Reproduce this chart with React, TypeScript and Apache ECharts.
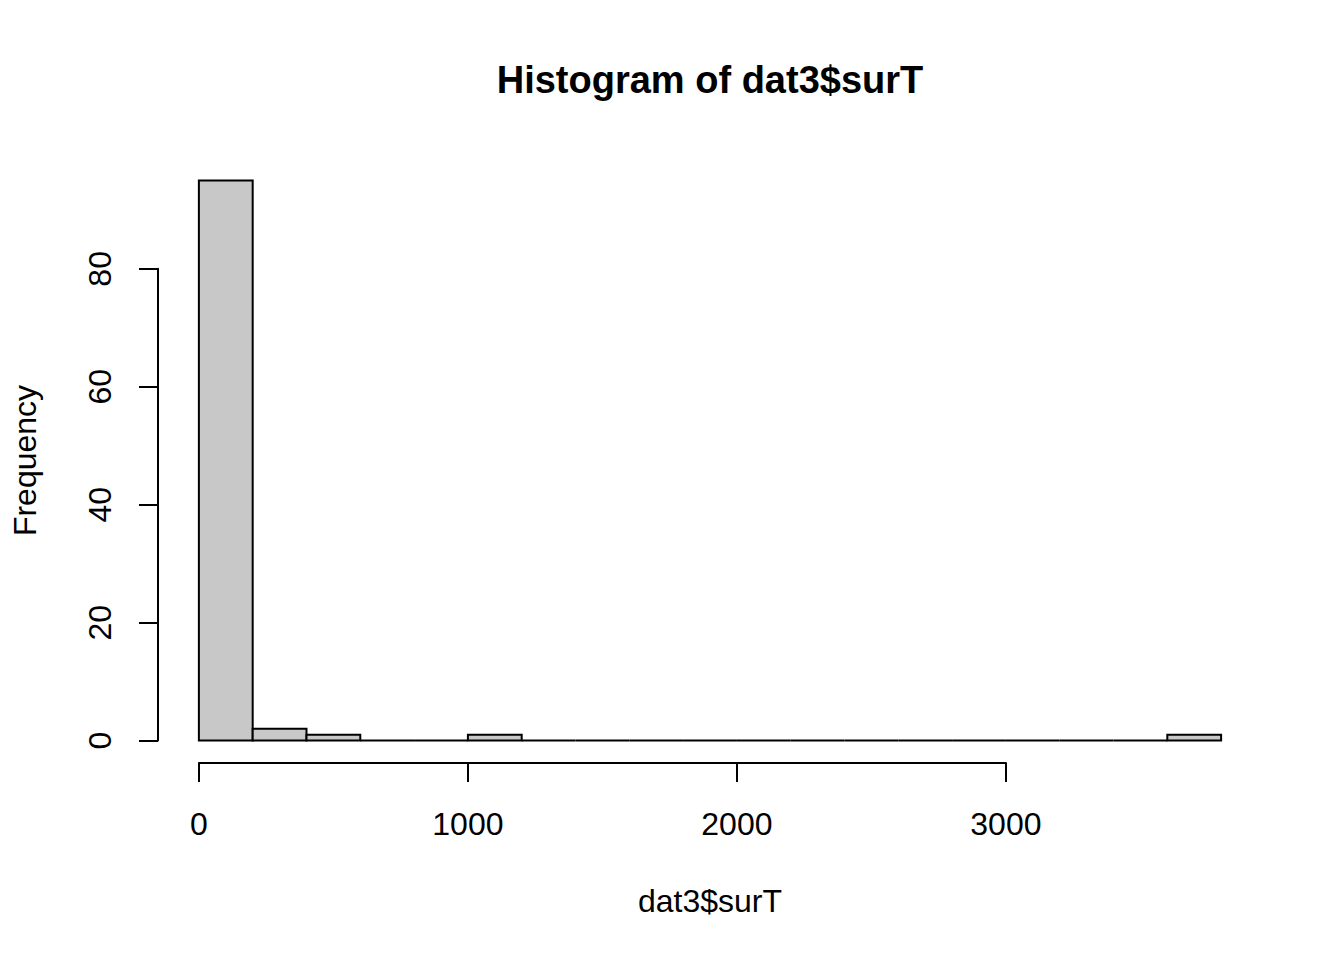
import React, { useEffect, useRef } from "react";
import * as echarts from "echarts";

const binStarts = [0, 200, 400, 600, 800, 1000, 1200, 1400, 1600, 1800, 2000, 2200, 2400, 2600, 2800, 3000, 3200, 3400, 3600];
const binWidth = 200;
const counts = [95, 2, 1, 0, 0, 1, 0, 0, 0, 0, 0, 0, 0, 0, 0, 0, 0, 0, 1];
const xTicks = [0, 1000, 2000, 3000];
const yTicks = [0, 20, 40, 60, 80];
const titleText = "Histogram of dat3$surT";
const xLabel = "dat3$surT";
const yLabel = "Frequency";

export default function App() {
  const ref = useRef<HTMLDivElement>(null);
  useEffect(() => {
    document.body.style.margin = "0";
    const chart = echarts.init(ref.current!, null, { renderer: "svg" });

    // plot region (R style, 4% extension)
    const xDataMin = binStarts[0];
    const xDataMax = binStarts[binStarts.length - 1] + binWidth;
    const yDataMax = Math.max(...counts);
    const xPad = (xDataMax - xDataMin) * 0.04;
    const yPad = yDataMax * 0.04;
    const xMin = xDataMin - xPad, xMax = xDataMax + xPad;
    const yMin = -yPad, yMax = yDataMax + yPad;
    const L = 158, T = 158, W = 1104, H = 605;
    const px = (v: number) => L + ((v - xMin) / (xMax - xMin)) * W;
    const py = (v: number) => T + ((yMax - v) / (yMax - yMin)) * H;

    const yTop = yTicks[yTicks.length - 1];
    const xRight = xTicks[xTicks.length - 1];

    const font = "'Liberation Sans', Arial, Helvetica, sans-serif";

    const data = binStarts.map((s, i) => [s, s + binWidth, counts[i]]);

    chart.setOption({
      animation: false,
      backgroundColor: "#ffffff",
      grid: [
        { left: L, top: T, width: W, height: H },
        { left: L, top: py(yTop), width: W, height: py(0) - py(yTop) },
        { left: px(0), top: T, width: px(xRight) - px(0), height: H },
      ],
      xAxis: [
        { type: "value", gridIndex: 0, min: xMin, max: xMax, show: false },
        { type: "value", gridIndex: 1, min: 0, max: 1, show: false },
        {
          type: "value", gridIndex: 2, min: 0, max: xRight, interval: xTicks[1] - xTicks[0],
          axisLine: { show: true, lineStyle: { color: "#000", width: 2 } },
          axisTick: { show: true, inside: false, length: 19, lineStyle: { color: "#000", width: 2 } },
          axisLabel: {
            show: true, color: "#000", fontSize: 32, fontFamily: font, margin: 45,
            showMinLabel: true, showMaxLabel: true, formatter: (v: number) => String(v),
          },
          splitLine: { show: false },
        },
      ],
      yAxis: [
        { type: "value", gridIndex: 0, min: yMin, max: yMax, show: false },
        {
          type: "value", gridIndex: 1, min: 0, max: yTop, interval: yTicks[1] - yTicks[0],
          axisLine: { show: true, lineStyle: { color: "#000", width: 2 } },
          axisTick: { show: true, inside: false, length: 19, lineStyle: { color: "#000", width: 2 } },
          axisLabel: {
            show: true, color: "#000", fontSize: 32, fontFamily: font, margin: 42, rotate: 90,
            showMinLabel: true, showMaxLabel: true, formatter: (v: number) => String(v),
          },
          splitLine: { show: false },
        },
        { type: "value", gridIndex: 2, min: 0, max: 1, show: false },
      ],
      series: [
        {
          type: "custom",
          xAxisIndex: 0,
          yAxisIndex: 0,
          data,
          renderItem: (params: any, api: any) => {
            const a = api.coord([api.value(0), 0]);
            const b = api.coord([api.value(1), api.value(2)]);
            return {
              type: "polygon",
              shape: { points: [[a[0], a[1]], [b[0], a[1]], [b[0], b[1]], [a[0], b[1]]] },
              style: { fill: "#c8c8c8", stroke: "#000", lineWidth: 2 },
            };
          },
        },
      ],
      graphic: [
        {
          type: "text", x: L + W / 2, y: 80,
          style: { text: titleText, fill: "#000", font: `bold 38px ${font}`, align: "center", verticalAlign: "middle" },
        },
        {
          type: "text", x: L + W / 2, y: 901,
          style: { text: xLabel, fill: "#000", font: `32px ${font}`, align: "center", verticalAlign: "middle" },
        },
        {
          type: "text", x: 25, y: T + H / 2, rotation: Math.PI / 2,
          style: { text: yLabel, fill: "#000", font: `32px ${font}`, align: "center", verticalAlign: "middle" },
        },
      ],
    });
    return () => chart.dispose();
  }, []);
  return <div ref={ref} style={{ width: 1344, height: 960 }} />;
}
